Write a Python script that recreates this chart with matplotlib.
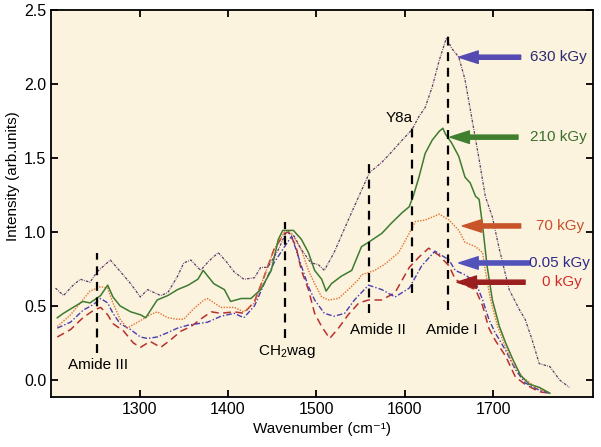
import matplotlib
matplotlib.use("Agg")
import matplotlib.pyplot as plt

plt.rcParams['font.family'] = ['Liberation Sans', 'DejaVu Sans']
plt.rcParams['mathtext.fontset'] = 'custom'
plt.rcParams['mathtext.rm'] = 'Liberation Sans'

# 630 kGy
wn_630 = [1205, 1214, 1225, 1233, 1244, 1252, 1267, 1280, 1290, 1301, 1309, 1324, 1332, 1343,
          1350, 1358, 1369, 1378, 1389, 1398, 1407, 1418, 1430, 1437, 1445, 1457, 1466, 1475,
          1483, 1494, 1502, 1509, 1520, 1528, 1536, 1548, 1560, 1574, 1585, 1597, 1608, 1616,
          1623, 1631, 1639, 1647, 1653, 1661, 1668, 1676, 1684, 1691, 1699, 1707, 1718, 1730,
          1736, 1744, 1752, 1764, 1775, 1786]
i_630 = [0.62, 0.57, 0.64, 0.68, 0.66, 0.73, 0.81, 0.72, 0.65, 0.56, 0.61, 0.57, 0.59, 0.70,
         0.79, 0.81, 0.74, 0.80, 0.86, 0.80, 0.73, 0.68, 0.69, 0.76, 0.76, 0.88, 1.00, 0.97,
         0.88, 0.79, 0.78, 0.74, 0.86, 0.97, 1.08, 1.24, 1.40, 1.47, 1.54, 1.62, 1.69, 1.78,
         1.84, 1.98, 2.16, 2.31, 2.24, 2.18, 2.03, 1.76, 1.49, 1.24, 1.10, 0.88, 0.61, 0.47,
         0.41, 0.27, 0.11, 0.09, 0.00, -0.05]

# 210 kGy
wn_210 = [1207, 1214, 1225, 1236, 1244, 1256, 1264, 1270, 1278, 1290, 1301, 1307, 1320, 1332,
          1343, 1355, 1366, 1372, 1384, 1396, 1403, 1415, 1426, 1437, 1449, 1457, 1462, 1474,
          1483, 1491, 1498, 1506, 1511, 1517, 1528, 1540, 1551, 1559, 1574, 1585, 1597, 1605,
          1610, 1616, 1623, 1631, 1639, 1643, 1646, 1653, 1661, 1668, 1674, 1680, 1684, 1688,
          1693, 1699, 1707, 1714, 1722, 1731, 1741, 1752, 1764]
i_210 = [0.42, 0.45, 0.49, 0.53, 0.52, 0.57, 0.64, 0.56, 0.50, 0.46, 0.44, 0.42, 0.54, 0.57,
         0.61, 0.64, 0.68, 0.74, 0.65, 0.61, 0.53, 0.55, 0.55, 0.61, 0.74, 0.95, 1.01, 1.01,
         0.95, 0.86, 0.74, 0.68, 0.60, 0.65, 0.70, 0.74, 0.90, 0.93, 0.99, 1.06, 1.13, 1.17,
         1.25, 1.37, 1.53, 1.62, 1.68, 1.70, 1.66, 1.60, 1.51, 1.37, 1.33, 1.24, 1.22, 1.04,
         0.77, 0.54, 0.36, 0.25, 0.14, 0.03, -0.03, -0.05, -0.09]

# 70 kGy
wn_70 = [1207, 1222, 1233, 1244, 1256, 1264, 1270, 1278, 1286, 1298, 1312, 1320, 1332, 1343,
         1350, 1361, 1373, 1377, 1392, 1407, 1418, 1430, 1441, 1452, 1464, 1472, 1483, 1491,
         1498, 1506, 1514, 1525, 1536, 1548, 1551, 1566, 1577, 1593, 1605, 1612, 1623, 1639,
         1650, 1661, 1668, 1680, 1688, 1691, 1697, 1705, 1712, 1722, 1733, 1748, 1764]
i_70 = [0.36, 0.44, 0.52, 0.60, 0.63, 0.62, 0.52, 0.41, 0.35, 0.39, 0.44, 0.46, 0.42, 0.41,
        0.41, 0.48, 0.54, 0.55, 0.49, 0.49, 0.46, 0.52, 0.70, 0.88, 1.00, 0.99, 0.88, 0.74,
        0.65, 0.56, 0.54, 0.55, 0.61, 0.68, 0.71, 0.74, 0.78, 0.86, 0.99, 1.07, 1.08, 1.12,
        1.08, 1.01, 0.93, 0.90, 0.86, 0.74, 0.54, 0.36, 0.25, 0.11, 0.02, -0.05, -0.09]

# 0.05 kGy
wn_005 = [1207, 1222, 1236, 1248, 1256, 1264, 1270, 1278, 1290, 1301, 1309, 1320, 1332, 1343,
          1355, 1366, 1377, 1392, 1407, 1418, 1430, 1441, 1452, 1464, 1472, 1477, 1483, 1491,
          1498, 1509, 1520, 1532, 1543, 1559, 1574, 1589, 1605, 1619, 1634, 1642, 1650, 1657,
          1668, 1680, 1688, 1695, 1702, 1714, 1725, 1736, 1752, 1764]
i_005 = [0.35, 0.39, 0.47, 0.51, 0.55, 0.52, 0.45, 0.38, 0.34, 0.29, 0.28, 0.29, 0.32, 0.35,
         0.37, 0.38, 0.39, 0.43, 0.45, 0.42, 0.50, 0.65, 0.79, 0.90, 0.97, 0.88, 0.77, 0.63,
         0.54, 0.45, 0.43, 0.45, 0.54, 0.64, 0.61, 0.56, 0.62, 0.77, 0.87, 0.84, 0.81, 0.74,
         0.71, 0.66, 0.54, 0.41, 0.32, 0.20, 0.07, -0.02, -0.07, -0.09]

# 0 kGy
wn_0 = [1207, 1222, 1236, 1248, 1256, 1264, 1270, 1282, 1293, 1301, 1312, 1324, 1335, 1347,
        1358, 1369, 1381, 1392, 1407, 1418, 1430, 1441, 1452, 1464, 1469, 1477, 1483, 1491,
        1498, 1506, 1515, 1525, 1536, 1548, 1559, 1574, 1589, 1605, 1616, 1627, 1639, 1650,
        1657, 1668, 1680, 1688, 1695, 1702, 1714, 1725, 1736, 1752, 1764]
i_0 = [0.29, 0.34, 0.42, 0.47, 0.49, 0.44, 0.38, 0.33, 0.25, 0.22, 0.26, 0.22, 0.27, 0.33,
       0.36, 0.41, 0.46, 0.45, 0.46, 0.45, 0.53, 0.70, 0.88, 0.99, 1.00, 0.90, 0.74, 0.61,
       0.45, 0.36, 0.28, 0.35, 0.44, 0.52, 0.54, 0.54, 0.59, 0.76, 0.83, 0.89, 0.84, 0.77,
       0.68, 0.64, 0.61, 0.50, 0.35, 0.27, 0.16, 0.02, -0.03, -0.08, -0.09]

# band markers: position, bottom, top
band_pos = [1252, 1464, 1559, 1608, 1649]
band_lo = [0.18, 0.28, 0.45, 0.59, 0.47]
band_hi = [0.86, 1.07, 1.49, 1.70, 2.34]
band_names = ["Amide III", "CH$_2$wag", "Amide II", "Y8a", "Amide I"]
band_text_xy = [(1253, 0.10), (1466, 0.19), (1570, 0.34), (1594, 1.77), (1653, 0.34)]

dose_labels = ["630 kGy", "210 kGy", "70 kGy", "0.05 kGy", "0 kGy"]
label_y = [2.18, 1.64, 1.04, 0.79, 0.66]


def main():
    fig = plt.figure(figsize=(6.01, 4.47), dpi=100)
    ax = fig.add_axes([0.085, 0.112, 0.902, 0.866])
    ax.set_facecolor('#FBF3DD')

    ax.plot(wn_0, i_0, color='#B8302E', lw=1.1, ls=(0, (5, 3)))
    ax.plot(wn_005, i_005, color='#4A3CB2', lw=1.0, ls=(0, (4, 1.5, 1, 1.5)))
    ax.plot(wn_70, i_70, color='#E2712F', lw=1.0, ls=(0, (1, 1)))
    ax.plot(wn_210, i_210, color='#3E7B30', lw=1.1)
    ax.plot(wn_630, i_630, color='#5A3868', lw=0.9, ls=(0, (2, 1, 0.6, 1)))

    for x, lo, hi in zip(band_pos, band_lo, band_hi):
        ax.plot([x, x], [lo, hi], color='k', lw=1.6, ls=(0, (4, 3)))
    for name, (tx, ty) in zip(band_names, band_text_xy):
        ax.text(tx, ty, name, ha='center', va='center', fontsize=11)

    arrow_col = ['#5549B2', '#3F7F2E', '#C9542A', '#5252BA', '#9A1E1E']
    text_col = ['#2B2A6E', '#3A6E2E', '#C8502A', '#2E2A8A', '#D42A2A']
    tips = [1661, 1651, 1665, 1661, 1659]
    tails = [1731, 1728, 1731, 1741, 1736]
    text_x = [1742, 1742, 1748, 1740, 1755]
    for lab, y, c, tc, tip, tail, tx in zip(dose_labels, label_y, arrow_col, text_col,
                                            tips, tails, text_x):
        ax.annotate('', xy=(tip, y), xytext=(tail, y),
                    arrowprops=dict(width=3, headwidth=9, headlength=14, color=c, shrink=0))
        ax.text(tx, y, lab, ha='left', va='center', fontsize=11, color=tc)

    ax.set_xlim(1200, 1813)
    ax.set_ylim(-0.115, 2.5)
    ax.set_xticks([1300, 1400, 1500, 1600, 1700])
    ax.set_yticks([0.0, 0.5, 1.0, 1.5, 2.0, 2.5])
    ax.set_yticklabels(['0.0', '0.5', '1.0', '1.5', '2.0', '2.5'])
    ax.tick_params(direction='in', top=True, right=True, length=5, width=1.3, labelsize=11.5)
    for s in ax.spines.values():
        s.set_linewidth(1.3)
    ax.set_xlabel("Wavenumber (cm\u207b\u00b9)", fontsize=11)
    ax.set_ylabel("Intensity (arb.units)", fontsize=11)
    ax.yaxis.set_label_coords(-0.058, 0.57)

    fig.savefig("out.png", dpi=100)


if __name__ == "__main__":
    main()
